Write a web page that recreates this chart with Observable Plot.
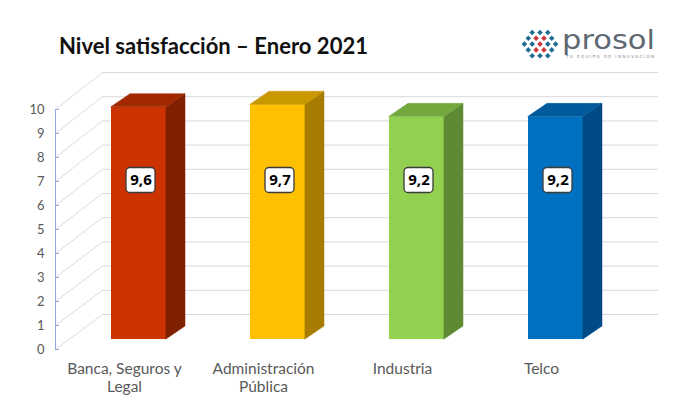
<!DOCTYPE html>
<html>
<head>
<meta charset="utf-8">
<script src="https://cdn.jsdelivr.net/npm/d3@7"></script>
<script src="https://cdn.jsdelivr.net/npm/@observablehq/plot@0.6"></script>
<style>
  html, body { margin: 0; padding: 0; background: #fff; }
  #wrap { position: relative; width: 680px; height: 408px; overflow: hidden; }
  #chart { position: absolute; left: 0; top: 0; }
  #header { position: absolute; left: 0; top: 0; }
</style>
</head>
<body>
<div id="wrap">
  <div id="chart"></div>
  <svg id="header" width="680" height="70" xmlns="http://www.w3.org/2000/svg"></svg>
</div>
<script>
// ---- data ----
const categories = ["Banca, Seguros y Legal", "Administración Pública", "Industria", "Telco"];
const categoryLabels = ["Banca, Seguros y\nLegal", "Administración\nPública", "Industria", "Telco"];
const values = [9.6, 9.7, 9.2, 9.2];
const valueLabels = ["9,6", "9,7", "9,2", "9,2"];
const yTicks = [0, 1, 2, 3, 4, 5, 6, 7, 8, 9, 10];
const frontColors = ["#cc3300", "#ffc000", "#92d050", "#0070c0"];
const topColors = ["#a12800", "#c99700", "#73a83f", "#005a9c"];
const sideColors = ["#7f2100", "#a67d00", "#5e8a33", "#004a85"];
const title = "Nivel satisfacción – Enero 2021";

// ---- geometry (pixel sizes converted to data units) ----
const X0 = 69, X1 = 625, Y0 = 339, Y1 = 97;
const KX = 4 / (X1 - X0);          // x units per px
const KY = 10 / (Y0 - Y1);         // y units per px
const BAR_W = 55 * KX;
const DEPTH_X = 19 * KX, DEPTH_Y = 13 * KY;
const AXIS_X = (55 - X0) * KX, AXIS_DY = 10 * KY, AXIS_K = 0.992;
const WALL_L = (102 - X0) * KX, WALL_R = (658 - X0) * KX, WALL_DY = 25 * KY;
const LABEL_Y = (Y0 - 180) * KY;
const BOX_W = 29 * KX, BOX_H = 25 * KY, BOX_DX = 2 * KX;
const CAT_DX = -14.5 * KX;
const CAT_Y = (Y0 - 361.5) * KY;

const bars = categories.map((c, i) => ({
  i, cat: c, value: values[i],
  x1: i + 0.5 - BAR_W / 2, x2: i + 0.5 + BAR_W / 2,
  front: frontColors[i], top: topColors[i], side: sideColors[i],
  label: valueLabels[i]
}));
const sideRows = bars.flatMap(b => [
  {i: b.i, x: b.x2, y1: 0, y2: b.value, color: b.side},
  {i: b.i, x: b.x2 + DEPTH_X, y1: DEPTH_Y, y2: b.value + DEPTH_Y, color: b.side}
]);
const topRows = bars.flatMap(b => [
  {i: b.i, y: b.value, x1: b.x1, x2: b.x2, color: b.top},
  {i: b.i, y: b.value + DEPTH_Y, x1: b.x1 + DEPTH_X, x2: b.x2 + DEPTH_X, color: b.top}
]);
const axisY = d => d * AXIS_K - AXIS_DY;

const chart = Plot.plot({
  width: 680,
  height: 408,
  marginTop: 0, marginBottom: 0, marginLeft: 0, marginRight: 0,
  x: {domain: [0, 4], range: [X0, X1], axis: null},
  y: {domain: [0, 10], range: [Y0, Y1], axis: null},
  color: {type: "identity"},
  style: {fontFamily: "Lato, 'Open Sans', sans-serif", background: "transparent"},
  marks: [
    // back wall gridlines
    Plot.ruleY(yTicks, {y: d => d + WALL_DY, x1: WALL_L, x2: WALL_R, stroke: "#d9d9d9", strokeWidth: 1}),
    // side wall diagonals
    Plot.link(yTicks, {x1: AXIS_X, y1: axisY, x2: WALL_L, y2: d => d + WALL_DY, stroke: "#dcdcdc", strokeWidth: 1}),
    // value axis
    Plot.ruleX([AXIS_X], {y1: axisY(0), y2: axisY(10), stroke: "#8faadc", strokeWidth: 1}),
    Plot.ruleY(yTicks, {y: axisY, x1: AXIS_X, x2: AXIS_X + 4 * KX, stroke: "#8faadc", strokeWidth: 1}),
    Plot.text(yTicks, {x: AXIS_X, y: axisY, text: d => String(d), textAnchor: "end", dx: -11, fill: "#595959", fontSize: 13}),
    // bars: front, side, top
    Plot.rect(bars, {x1: "x1", x2: "x2", y1: 0, y2: "value", fill: "front"}),
    Plot.areaY(sideRows, {x: "x", y1: "y1", y2: "y2", z: "i", fill: "color", stroke: "color", strokeWidth: 0.5}),
    Plot.areaX(topRows, {y: "y", x1: "x1", x2: "x2", z: "i", fill: "color", stroke: "color", strokeWidth: 0.5}),
    // value labels
    Plot.rect(bars, {
      x1: d => d.i + 0.5 + BOX_DX - BOX_W / 2, x2: d => d.i + 0.5 + BOX_DX + BOX_W / 2,
      y1: LABEL_Y - BOX_H / 2, y2: LABEL_Y + BOX_H / 2,
      fill: "#ffffff", stroke: "#3a3a3a", strokeWidth: 1.3, rx: 4
    }),
    Plot.text(bars, {x: d => d.i + 0.5 + BOX_DX, y: LABEL_Y, text: "label", fill: "#000", fontSize: 15, fontWeight: "bold", fontFamily: "'Open Sans', sans-serif"}),
    // category labels
    Plot.text(categoryLabels, {
      x: (d, i) => i + 0.5 + CAT_DX, y: CAT_Y, text: d => d,
      lineAnchor: "top", lineHeight: 1.12, fill: "#595959", fontSize: 15.5
    })
  ]
});
document.getElementById("chart").appendChild(chart);

// ---- header: title and logo ----
const NS = "http://www.w3.org/2000/svg";
const header = document.getElementById("header");
function el(tag, attrs, text) {
  const e = document.createElementNS(NS, tag);
  for (const k in attrs) e.setAttribute(k, attrs[k]);
  if (text != null) e.textContent = text;
  header.appendChild(e);
  return e;
}
el("text", {x: 59, y: 54, "font-family": "Lato, 'Open Sans', sans-serif", "font-weight": "bold",
  "font-size": 22, fill: "#111", textLength: 309, lengthAdjust: "spacingAndGlyphs"}, title);

// logo: diamond lattice of small squares
const logoRows = [
  "BBB",
  "BRRB",
  "BBRBB",
  "BRRB",
  "BBB"
];
const logoBlue = "#1f6d94", logoRed = "#d1363b";
logoRows.forEach((row, r) => {
  const n = row.length;
  const cy = 32.5 + r * 5.8;
  row.split("").forEach((c, k) => {
    const cx = 540 + (k - (n - 1) / 2) * 7.8;
    const s = 2.8;
    el("polygon", {
      points: `${cx},${cy - s} ${cx + s},${cy} ${cx},${cy + s} ${cx - s},${cy}`,
      fill: c === "R" ? logoRed : logoBlue
    });
  });
});
el("text", {x: 562, y: 48.5, "font-family": "'DejaVu Sans', sans-serif", "font-size": 26,
  fill: "#5d6872", textLength: 93, lengthAdjust: "spacingAndGlyphs"}, "prosol");
el("text", {x: 566, y: 57.5, "font-family": "'DejaVu Sans', sans-serif", "font-size": 4,
  fill: "#7a838b", textLength: 88, lengthAdjust: "spacing"}, "TU EQUIPO DE INNOVACIÓN");
</script>
</body>
</html>
